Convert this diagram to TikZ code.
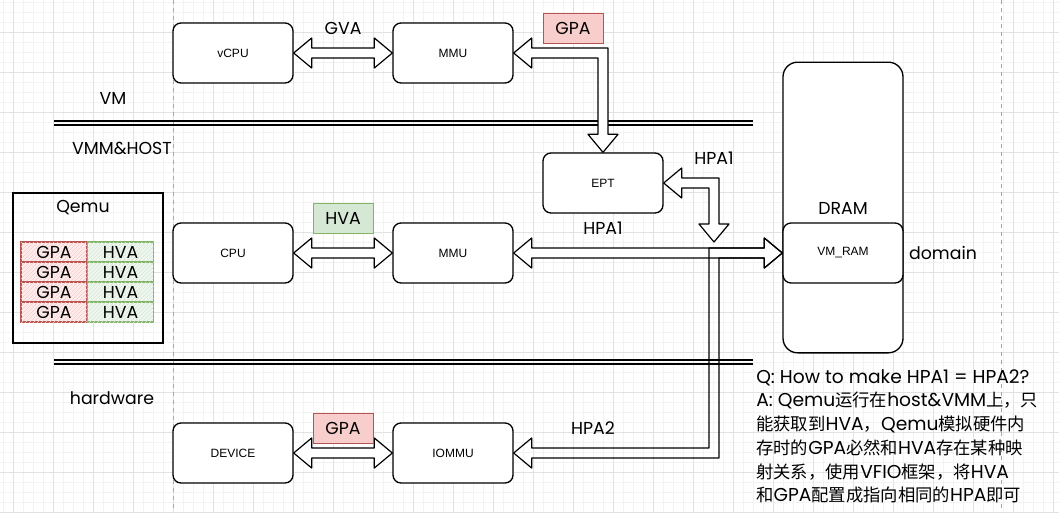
\documentclass[tikz,border=0pt]{standalone}
\usepackage{fontspec}
\setmainfont{Liberation Sans}
\newfontfamily\handfont{Poppins}
\newfontfamily\cjk{Noto Sans CJK SC}
\usetikzlibrary{calc,patterns}

\definecolor{gridmajor}{HTML}{E2E2E2}
\definecolor{gridminor}{HTML}{F3F3F3}
\definecolor{gpafill}{HTML}{F8CECC}
\definecolor{gpaline}{HTML}{B85450}
\definecolor{hvafill}{HTML}{D5E8D4}
\definecolor{hvaline}{HTML}{82B366}

\tikzset{
  unitbox/.style={draw, line width=1pt, rounded corners=6pt, fill=white, minimum width=90pt, minimum height=45pt, inner sep=0pt, font=\fontsize{9}{11}\selectfont},
  handtext/.style={inner sep=0pt, font=\handfont\fontsize{13}{15}\selectfont},
  gpatag/.style={handtext, draw=gpaline, fill=gpafill, minimum width=45pt, minimum height=22.5pt},
  hvatag/.style={handtext, draw=hvaline, fill=hvafill, minimum width=45pt, minimum height=22.5pt},
  gpacell/.style={handtext, draw=gpaline, line width=0.8pt, fill=gpafill!35, postaction={pattern=north east lines, pattern color=gpafill}, minimum width=49.5pt, minimum height=15pt},
  hvacell/.style={handtext, draw=hvaline, line width=0.8pt, fill=hvafill!35, postaction={pattern=north east lines, pattern color=hvafill}, minimum width=49.5pt, minimum height=15pt},
  blockarrow/.style={draw, line width=0.9pt, fill=white, line join=round},
  sepline/.style={line width=1pt},
}

\newcommand{\lat}[1]{{\handfont\fontsize{14}{17.8}\selectfont #1}}

% straight block arrow with a head at both ends
\newcommand{\hblock}[3][]{%
  \draw[blockarrow,#1] (#2) -- ++(\headlen,-\headhalf) -- ++(0,\headhalf-\shafthalf)
    -- ($(#3)+(-\headlen,-\shafthalf)$) -- ++(0,\shafthalf-\headhalf) -- (#3)
    -- ++(-\headlen,\headhalf) -- ++(0,\shafthalf-\headhalf)
    -- ($(#2)+(\headlen,\shafthalf)$) -- ++(0,\headhalf-\shafthalf) -- cycle;}

% block arrow going right, then down
\newcommand{\elbowblock}[3]{%
  \draw[blockarrow] (#1) -- ++(\headlen,-\headhalf) -- ++(0,\headhalf-\shafthalf)
    -- ($(#2)+(\shafthalf,-\shafthalf)$) -- ($(#3)+(\shafthalf,-\headlen)$)
    -- ++(\headhalf-\shafthalf,0) -- (#3) -- ++(-\headhalf,-\headlen)
    -- ++(\headhalf-\shafthalf,0) -- ($(#2)+(-\shafthalf,\shafthalf)$)
    -- ($(#1)+(\headlen,\shafthalf)$) -- ++(0,\headhalf-\shafthalf) -- cycle;}

\begin{document}
\begin{tikzpicture}[x=0.75pt,y=-0.75pt]
    \pgfmathsetmacro{\headlen}{18}
    \pgfmathsetmacro{\headhalf}{15}
    \pgfmathsetmacro{\shafthalf}{5}
    \useasboundingbox (0,0) rectangle (1059,512);
    \fill[white] (0,0) rectangle (1059,512);
    % grid
    \foreach \gx in {3,13,...,1053} \draw[gridminor,line width=0.5pt] (\gx,0) -- (\gx,512);
    \foreach \gy in {2,12,...,512} \draw[gridminor,line width=0.5pt] (0,\gy) -- (1059,\gy);
    \foreach \gx in {13,53,...,1053} \draw[gridmajor,line width=0.6pt] (\gx,0) -- (\gx,512);
    \foreach \gy in {32,72,...,512} \draw[gridmajor,line width=0.6pt] (0,\gy) -- (1059,\gy);
    \draw[gray!70,dashed,line width=0.5pt] (173,0) -- (173,512);
    \draw[gray!70,dashed,line width=0.5pt] (1001,0) -- (1001,512);

    % layer separators
    \draw[sepline,line width=1.3pt] (54,121) -- (753,121);
    \draw[sepline] (54,125) -- (753,125);
    \draw[sepline,line width=1.3pt] (54,360) -- (753,360);
    \draw[sepline] (54,364) -- (753,364);
    \node[handtext] (vmlabel) at (113,98) {VM};
    \node[handtext] (hostlabel) at (122,148) {VMM\&HOST};
    \node[handtext] (hwlabel) at (112,398) {hardware};

    \node[unitbox] (vcpu) at (233,53) {vCPU};
    \node[unitbox] (mmuvm) at (453,53) {MMU};
    \node[unitbox] (ept) at (603,183) {EPT};
    \node[unitbox] (cpu) at (233,253) {CPU};
    \node[unitbox] (mmuhost) at (453,253) {MMU};
    \node[unitbox] (device) at (233,453) {DEVICE};
    \node[unitbox] (iommu) at (453,453) {IOMMU};
    \node[draw,line width=1pt,rounded corners=11pt,minimum width=90pt,minimum height=218pt,fill=white] (dram) at (843,207.5) {};
    \node[unitbox] (vmram) at (843,253) {VM\_RAM};
    \node[handtext] (dramlabel) at (843,208) {DRAM};
    \node[handtext] (domainlabel) at (943,253) {domain};

    % Qemu and its GPA/HVA table
    \node[draw,line width=1pt,minimum width=112.5pt,minimum height=112.5pt] (qemu) at (88,268) {};
    \node[handtext] (qemulabel) at (83,208) {Qemu};
    \foreach \row/\ry in {1/252,2/272,3/292,4/312} {
        \node[gpacell] (gpa\row) at (54,\ry) {GPA};
        \node[hvacell] (hva\row) at (120.5,\ry) {HVA};
    }

    \coordinate (hpaonetip) at (714,242);
    \coordinate (mmubend) at (mmuvm.east -| ept.north);
    \coordinate (eptbend) at (ept.east -| hpaonetip);
    \coordinate (iommubend) at (iommu.east -| hpaonetip);
    \coordinate (rambend) at (vmram.west -| hpaonetip);

    \hblock{vcpu.east}{mmuvm.west}
    \hblock{cpu.east}{mmuhost.west}
    \hblock{device.east}{iommu.west}
    \elbowblock{mmuvm.east}{mmubend}{ept.north}
    \hblock{mmuhost.east}{vmram.west}
    % HPA2: IOMMU -> right -> up -> VM_RAM
    \draw[blockarrow,fill=none] (iommu.east) -- ++(\headlen,-\headhalf) -- ++(0,\headhalf-\shafthalf)
        -- ($(iommubend)+(-\shafthalf,-\shafthalf)$) -- ($(rambend)+(-\shafthalf,-\shafthalf)$)
        -- ($(vmram.west)+(-\headlen,-\shafthalf)$) -- ++(0,\shafthalf-\headhalf) -- (vmram.west)
        -- ++(-\headlen,\headhalf) -- ++(0,\shafthalf-\headhalf)
        -- ($(rambend)+(\shafthalf,\shafthalf)$) -- ($(iommubend)+(\shafthalf,\shafthalf)$)
        -- ($(iommu.east)+(\headlen,\shafthalf)$) -- ++(0,\headhalf-\shafthalf) -- cycle;
    \elbowblock{ept.east}{eptbend}{hpaonetip}

    % address labels
    \node[handtext] (gvalabel) at (343,28) {GVA};
    \node[gpatag] (gpavm) at (573,28) {GPA};
    \node[hvatag] (hvahost) at (343,218) {HVA};
    \node[gpatag] (gpadev) at (343,428) {GPA};
    \node[handtext] (hpaept) at (714,158) {HPA1};
    \node[handtext] (hpammu) at (603,228) {HPA1};
    \node[handtext] (hpaiommu) at (593,428) {HPA2};

    \node[anchor=north west,align=left,inner sep=0pt,font=\cjk\fontsize{13}{17.8}\selectfont] (qanote) at (756,369)
    {\lat{Q: How to make HPA1 = HPA2?}\\
     \lat{A: Qemu}运行在\lat{host\&VMM}上，只\\
     能获取到\lat{HVA}，\lat{Qemu}模拟硬件内\\
     存时的\lat{GPA}必然和\lat{HVA}存在某种映\\
     射关系，使用\lat{VFIO}框架，将\lat{HVA}\\
     和\lat{GPA}配置成指向相同的\lat{HPA}即可};
\end{tikzpicture}
\end{document}
